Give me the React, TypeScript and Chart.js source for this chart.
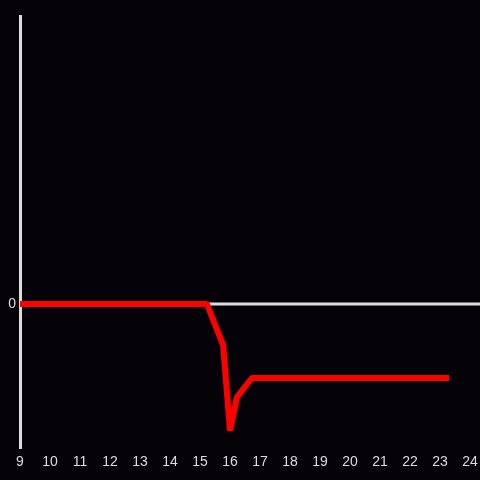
import React, { useEffect, useRef } from "react";
import { Chart, registerables } from "chart.js";

Chart.register(...registerables);

const hours = [9, 15.23, 15.77, 16.0, 16.23, 16.73, 23.3];
const values = [0, 0, -0.285, -0.88, -0.646, -0.514, -0.514];
const xTicks = [9, 10, 11, 12, 13, 14, 15, 16, 17, 18, 19, 20, 21, 22, 23, 24];
const yTicks = [0];

const zeroLine = {
  id: "zeroLine",
  beforeDatasetsDraw(chart: any) {
    const ctx = chart.ctx;
    const y = chart.scales.y.getPixelForValue(0);
    ctx.save();
    ctx.strokeStyle = "#dddddd";
    ctx.lineWidth = 3;
    ctx.beginPath();
    ctx.moveTo(chart.chartArea.left, y);
    ctx.lineTo(chart.width, y);
    ctx.stroke();
    ctx.restore();
  },
};

const bg = {
  id: "bg",
  beforeDraw(chart: any) {
    const ctx = chart.ctx;
    ctx.save();
    ctx.fillStyle = "#050308";
    ctx.fillRect(0, 0, chart.width, chart.height);
    ctx.restore();
  },
};

export default function App() {
  const ref = useRef<HTMLCanvasElement>(null);
  useEffect(() => {
    if (!ref.current) return;
    const chart = new Chart(ref.current, {
      type: "line",
      data: {
        datasets: [
          {
            data: hours.map((h, i) => ({ x: h, y: values[i] })),
            borderColor: "#ff0000",
            borderWidth: 6,
            pointRadius: 0,
            tension: 0,
            borderCapStyle: "butt",
            borderJoinStyle: "bevel",
          },
        ],
      },
      options: {
        responsive: false,
        animation: false,
        layout: { padding: { top: 16, left: 0, right: 0, bottom: 0 } },
        plugins: { legend: { display: false }, tooltip: { enabled: false } },
        scales: {
          x: {
            type: "linear",
            min: 9,
            max: 24.333,
            afterBuildTicks: (s: any) => {
              s.ticks = xTicks.map((v) => ({ value: v }));
            },
            afterFit: (s: any) => {
              s.height = 32;
              s.paddingRight = 0;
              s.paddingLeft = 0;
            },
            grid: { display: false, drawTicks: false },
            border: { display: false },
            ticks: {
              color: "#dddddd",
              font: { size: 14, family: "Liberation Sans, Arial, sans-serif" },
              padding: 6,
              maxRotation: 0,
              autoSkip: false,
              includeBounds: false,
            },
          },
          y: {
            type: "linear",
            min: -1,
            max: 2,
            afterBuildTicks: (s: any) => {
              s.ticks = yTicks.map((v) => ({ value: v }));
            },
            afterFit: (s: any) => {
              s.width = 20;
              s.paddingTop = 0;
              s.paddingBottom = 0;
            },
            grid: { display: false, drawTicks: false },
            border: { display: true, color: "#dddddd", width: 3 },
            ticks: {
              color: "#dddddd",
              font: { size: 14, family: "Liberation Sans, Arial, sans-serif" },
              padding: 4,
            },
          },
        },
      },
      plugins: [bg, zeroLine],
    });
    return () => chart.destroy();
  }, []);
  return (
    <div style={{ width: 480, height: 480 }}>
      <style>{"body{margin:0;background:#050308}"}</style>
      <canvas ref={ref} width={480} height={480} />
    </div>
  );
}
